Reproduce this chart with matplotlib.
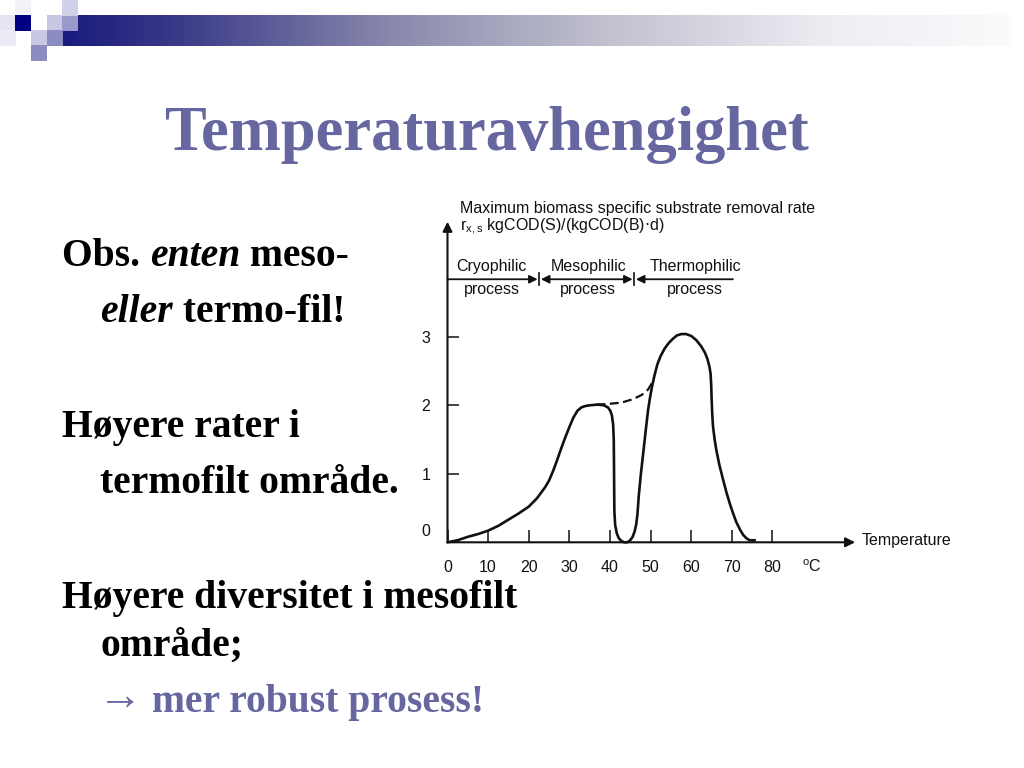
import numpy as np
import matplotlib
matplotlib.use("Agg")
import matplotlib.pyplot as plt
from matplotlib.colors import LinearSegmentedColormap
from matplotlib.patches import Rectangle
import matplotlib.transforms as mtransforms

# ---------------- data ----------------
temp = [0, 2.5, 5, 7.5, 10, 12.5, 15, 17.5, 20, 22, 24, 25, 26, 27, 28, 29, 30, 31,
        32, 33, 34, 35, 37, 38.5, 39.5, 40.1, 40.5, 40.8, 40.95, 41.0, 41.05, 41.1,
        41.3, 41.7, 42.2, 42.8, 43.5, 44.3, 45.0, 45.6, 46.1, 46.5, 46.8, 47.1,
        47.6, 48.2, 48.8, 49.4, 49.9, 50.4, 51.0, 51.7, 52.5, 53.5, 54.5, 55.5,
        56.5, 57.6, 58.8, 60.1, 61.3, 62.5, 63.4, 64.0, 64.5, 64.8, 64.95, 65.05,
        65.2, 65.4, 65.8, 66.2, 67.0, 67.9, 68.7, 69.5, 70.3, 71.1, 72.0, 72.8,
        73.6, 74.4, 75.7]
rate = [0, 0.03, 0.08, 0.12, 0.17, 0.24, 0.33, 0.42, 0.52, 0.64, 0.80, 0.90, 1.04,
        1.20, 1.37, 1.53, 1.68, 1.82, 1.92, 1.97, 1.99, 2.0, 2.01, 2.0, 1.97, 1.92,
        1.85, 1.72, 1.50, 1.20, 0.80, 0.45, 0.25, 0.13, 0.06, 0.02, 0.0, 0.0, 0.03,
        0.08, 0.16, 0.27, 0.42, 0.67, 0.98, 1.30, 1.62, 1.93, 2.12, 2.28, 2.44,
        2.60, 2.72, 2.83, 2.91, 2.97, 3.02, 3.04, 3.04, 3.01, 2.95, 2.86, 2.77,
        2.68, 2.57, 2.46, 2.30, 2.10, 1.88, 1.69, 1.50, 1.35, 1.12, 0.91, 0.73,
        0.57, 0.43, 0.30, 0.19, 0.11, 0.06, 0.03, 0.03]
dash_temp = [36.7, 39.6, 42.9, 45.7, 47.8, 49.4, 50.7]
dash_rate = [2.01, 2.02, 2.04, 2.09, 2.15, 2.23, 2.36]

xticks = [0, 10, 20, 30, 40, 50, 60, 70, 80]
yticks = [0, 1, 2, 3]
regions = ["Cryophilic", "Mesophilic", "Thermophilic"]
region_bounds = [0, 22.6, 46.0, 70.3]
region_label_x = [10.9, 34.7, 61.0]

title = "Temperaturavhengighet"
ylabel_lines = ["Maximum biomass specific substrate removal rate",
                r"$\mathregular{r_{x,s}}$ kgCOD(S)/(kgCOD(B)$\cdot$d)"]

# ---------------- figure ----------------
W, H = 1024, 768
fig = plt.figure(figsize=(W / 100, H / 100), dpi=100)
fig.patch.set_facecolor("white")

def fx(px):
    return px / W

def fy(py):
    return 1 - py / H

# decoration: gradient bar and squares
cmap = LinearSegmentedColormap.from_list(
    "bar", [(0.0, "#1a1a7e"), (0.12, "#3a3a88"), (0.35, "#8a8aae"),
            (0.55, "#bcbccc"), (0.8, "#ececf2"), (1.0, "#fbfbfd")])
bg = fig.add_axes([0, 0, 1, 1], zorder=0)
bg.set_xlim(0, W)
bg.set_ylim(H, 0)
bg.axis("off")
grad = np.linspace(0, 1, 512).reshape(1, -1)
bg.imshow(grad, cmap=cmap, extent=[62, 1012, 46, 15], aspect="auto", zorder=1)
squares = [
    (0, 15, "#e4e4f2"), (0, 30, "#ececf6"), (15, 0, "#f2f2f8"),
    (15, 15, "#000080"), (47, 15, "#c8c8e4"), (62, 15, "#9999cc"),
    (62, 0, "#d0d0e8"), (31, 30, "#c8c8e4"), (47, 30, "#8c8cc4"),
    (31, 45, "#8c8cc0"),
]
for sx, sy, c in squares:
    bg.add_patch(Rectangle((sx, sy), 15.5, 15.5, color=c, lw=0, zorder=2))

# title
fig.text(fx(487), fy(135), title, ha="center", va="center",
         family="Liberation Serif", weight="bold", size=45, color="#6666a0")

# body text with mixed styles
renderer = fig.canvas.get_renderer()

def seq_text(x_px, y_px, pieces, color="black", size=28.5):
    x = x_px
    for txt, style, weight, sz, dy in pieces:
        t = fig.text(fx(x), fy(y_px - dy), txt, ha="left", va="baseline",
                     family=["Liberation Serif", "DejaVu Serif"], weight=weight,
                     style=style, size=sz or size, color=color)
        bb = t.get_window_extent(renderer=renderer)
        x += bb.width

B, N, I = "bold", "normal", "italic"
seq_text(62, 266, [("Obs. ", N, B, None, 0), ("enten", I, B, None, 0), (" meso-", N, B, None, 0)])
seq_text(100, 322, [("eller", I, B, None, 0), (" termo-fil!", N, B, None, 0)])
seq_text(62, 437, [("Høyere rater i", N, B, None, 0)])
seq_text(100, 493, [("termofilt område.", N, B, None, 0)])
seq_text(62, 608, [("Høyere diversitet i mesofilt", N, B, None, 0)])
seq_text(100, 657, [("område;", N, B, None, 0)])
seq_text(98, 712, [("→", N, N, 32, 3), (" mer robust prosess!", N, B, None, 0)], color="#6666a0")

# ---------------- chart ----------------
x0, y0 = 447.5, 542.3
sx_, sy_ = 4.06, 68.5
xmax, ymax = 110, 4.8
ax = fig.add_axes([fx(x0), (H - y0) / H, xmax * sx_ / W, ymax * sy_ / H], zorder=3)
ax.set_xlim(0, xmax)
ax.set_ylim(0, ymax)
ax.patch.set_alpha(0)
for s in ax.spines.values():
    s.set_visible(False)

cfont = dict(family="Liberation Sans", size=11.5, color="#111111")

ax.set_xticks(xticks)
ax.set_xticklabels([str(v) for v in xticks], **cfont)
ax.set_yticks(yticks)
ax.set_yticklabels([str(v) for v in yticks], **cfont)
ax.tick_params(axis="x", direction="in", length=8.4, width=1.1, pad=13, color="#111111")
ax.tick_params(axis="y", direction="in", length=8.0, width=1.1, pad=12.5, color="#111111")
# "0" label sits a bit above the baseline in the original
lab0 = ax.get_yticklabels()[0]
lab0.set_transform(lab0.get_transform() + mtransforms.ScaledTranslation(0, 12 / 100, fig.dpi_scale_trans))

lw = 1.5
arrow_kw = dict(arrowstyle="-|>", color="#111111", lw=lw, mutation_scale=14,
                shrinkA=0, shrinkB=0)
ax.annotate("", xy=(0, 4.68), xytext=(0, 0), arrowprops=arrow_kw, annotation_clip=False)
ax.annotate("", xy=(100.4, 0), xytext=(0, 0), arrowprops=arrow_kw, annotation_clip=False)

ax.plot(temp, rate, color="#111111", lw=1.9, solid_capstyle="round", solid_joinstyle="round",
        clip_on=False)
ax.plot(dash_temp, dash_rate, color="#111111", lw=1.6, ls=(0, (4, 2)), clip_on=False)

ax.text(102, 0.03, "Temperature", ha="left", va="center", **cfont)
ax.text(89.7, -0.36, "$^{\\mathregular{o}}$C", ha="center", va="center", **cfont)

# y-axis header
ax.text(3.1, 4.87, ylabel_lines[0], ha="left", va="center", **cfont)
ax.text(3.1, 4.60, ylabel_lines[1], ha="left", va="center", **cfont)

# process region line with arrows
py = 3.84
ak = dict(color="#111111", lw=1.3, mutation_scale=12, shrinkA=0, shrinkB=0)
ax.annotate("", xy=(region_bounds[1] - 0.4, py), xytext=(region_bounds[0], py),
            arrowprops=dict(arrowstyle="-|>", **ak))
ax.annotate("", xy=(region_bounds[2] - 0.4, py), xytext=(region_bounds[1] + 0.4, py),
            arrowprops=dict(arrowstyle="<|-|>", **ak))
ax.annotate("", xy=(region_bounds[2] + 0.4, py), xytext=(region_bounds[3], py),
            arrowprops=dict(arrowstyle="-|>", **ak))
for b in region_bounds[1:3]:
    ax.plot([b, b], [py - 0.09, py + 0.09], color="#111111", lw=1.2)
for name, lx in zip(regions, region_label_x):
    ax.text(lx, 4.02, name, ha="center", va="center", **cfont)
    ax.text(lx, 3.69, "process", ha="center", va="center", **cfont)

fig.savefig("out.png", dpi=100, facecolor="white")
